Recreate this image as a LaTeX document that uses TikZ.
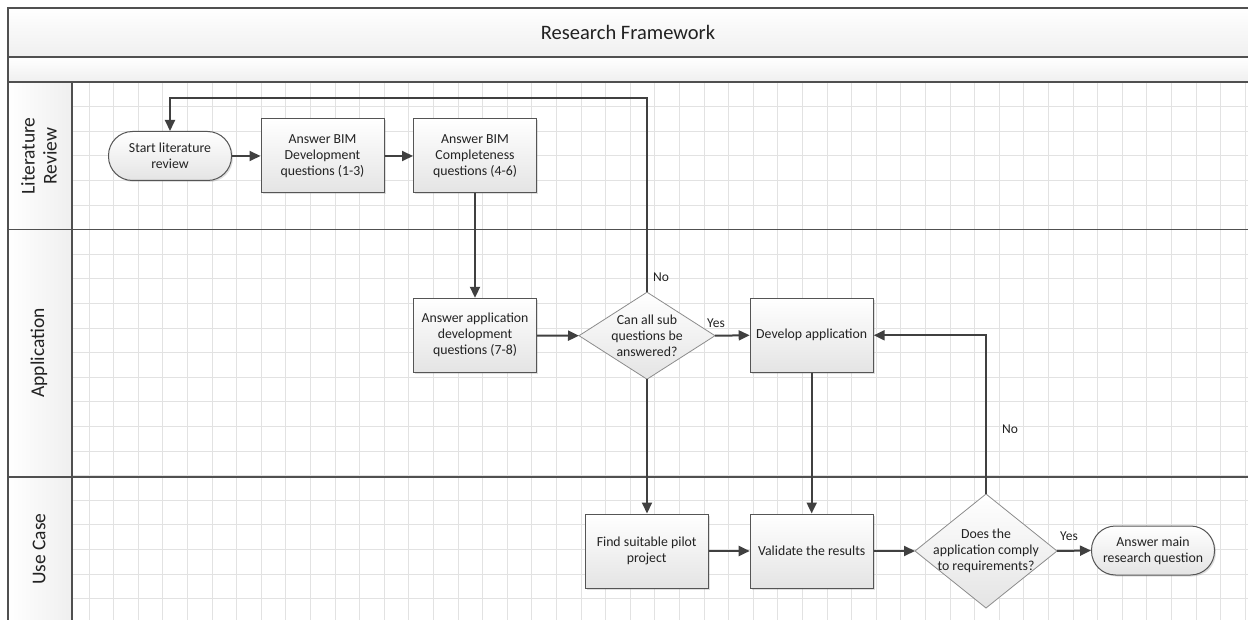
\documentclass[tikz,border=0pt]{standalone}
\usepackage{fontspec}
\setmainfont{Carlito}
\usetikzlibrary{shapes.geometric,arrows.meta,shadows,calc}
\definecolor{frameline}{HTML}{505050}
\definecolor{boxline}{HTML}{555555}
\definecolor{diamline}{HTML}{8C8C8C}
\definecolor{conn}{HTML}{404040}
\definecolor{gridc}{HTML}{E2E2E2}
\definecolor{txt}{HTML}{222222}
\definecolor{boxbottom}{HTML}{E4E4E4}
\definecolor{bandbottom}{HTML}{EFEFEF}
\tikzset{
  x=1pt, y=-1pt,
  every node/.style={font=\fontsize{13.8}{16}\selectfont, text=txt},
  procbox/.style={rectangle, draw=boxline, line width=1pt, top color=white, bottom color=boxbottom,
    minimum width=123pt, minimum height=74pt, align=center, inner sep=2pt,
    drop shadow={shadow xshift=1.5pt, shadow yshift=-1.5pt, opacity=0.25}},
  termbox/.style={rectangle, rounded corners=24pt, draw=boxline, line width=1pt, top color=white, bottom color=boxbottom,
    minimum width=123pt, minimum height=49pt, align=center, inner sep=2pt,
    drop shadow={shadow xshift=1.5pt, shadow yshift=-1.5pt, opacity=0.25}},
  decbox/.style={diamond, draw=diamline, line width=0.8pt, top color=white, bottom color=boxbottom,
    inner sep=0pt, outer sep=0pt},
  dectext/.style={align=center, inner sep=0pt},
  flow/.style={draw=conn, line width=2pt, -{Triangle[length=11pt,width=10pt]}},
  lanelabel/.style={rotate=90, align=center, font=\fontsize{19.5}{22}\selectfont},
  lane/.style={draw=frameline, line width=1.1pt},
  edgelabel/.style={font=\fontsize{13.5}{15}\selectfont, inner sep=1pt},
}
\begin{document}
\begin{tikzpicture}
\useasboundingbox (0,0) rectangle (1248,620);
\fill[white] (0,0) rectangle (1248,620);

% header bands
\shade[top color=white, bottom color=bandbottom] (8,8) rectangle (1248,57);
\shade[top color=white, bottom color=bandbottom] (8,57) rectangle (1248,82);
\node (title) at (628,32.5) {\fontsize{20.5}{24}\selectfont Research Framework};

% lane label column
\shade[left color=white, right color=bandbottom] (8,82) rectangle (72,620);

% background grid
\foreach \k in {0,...,47} {\draw[gridc, line width=0.9pt] ({89+24.6*\k},82) -- ({89+24.6*\k},620);}
\foreach \k in {1,...,21} {\draw[gridc, line width=0.9pt] (72,{82+24.6*\k}) -- (1248,{82+24.6*\k});}

% frame and lane separators
\draw[lane] (1248,8) -- (8,8) -- (8,620);
\draw[lane] (8,57) -- (1248,57);
\draw[lane] (8,82) -- (1248,82);
\draw[lane] (8,229.5) -- (1248,229.5);
\draw[lane] (8,477) -- (1248,477);
\draw[lane] (72,82) -- (72,620);

% lane titles
\node[lanelabel] (laneLR) at (39,156) {Literature\\Review};
\node[lanelabel] (laneApp) at (39,353) {Application};
\node[lanelabel] (laneUC) at (39,549) {Use Case};

% process steps
\node[termbox] (start) at (170,156) {Start literature\\review};
\node[procbox] (bimdev) at (322.5,156) {Answer BIM\\Development\\questions (1-3)};
\node[procbox] (bimcomp) at (475,156) {Answer BIM\\Completeness\\questions (4-6)};
\node[procbox] (appdev) at (475,335.3) {Answer application\\development\\questions (7-8)};
\node[decbox, minimum width=136pt, minimum height=87pt] (canall) at (647,335.7) {};
\node[dectext] (canallText) at (canall.center) {Can all sub\\questions be\\answered?};
\node[procbox] (develop) at (811.7,335.3) {Develop application};
\node[procbox] (pilot) at (646.7,551) {Find suitable pilot\\project};
\node[procbox] (validate) at (811.7,551) {Validate the results};
\node[decbox, minimum width=142pt, minimum height=114pt] (comply) at (986,551) {};
\node[dectext] (complyText) at (comply.center) {Does the\\application comply\\to requirements?};
\node[termbox] (mainq) at (1153,550.5) {Answer main\\research question};

% connectors
\draw[flow] (start) -- (bimdev);
\draw[flow] (bimdev) -- (bimcomp);
\draw[flow] (bimcomp) -- (appdev);
\draw[flow] (appdev) -- (canall.west);
\draw[flow] (canall.north) -- (canall.north |- 0,98.5) -| (start.north);
\draw[flow] (canall.east) -- (develop.west);
\draw[flow] (canall.south) -- (canall.south |- pilot.north);
\draw[flow] (develop) -- (validate);
\draw[flow] (pilot) -- (validate);
\draw[flow] (validate) -- (comply.west);
\draw[flow] (comply.north) |- (develop.east);
\draw[flow] (comply.east) -- (mainq.west);

% decision labels
\node[edgelabel] (no1) at (661,277) {No};
\node[edgelabel] (yes1) at (716,323) {Yes};
\node[edgelabel] (no2) at (1010,429.5) {No};
\node[edgelabel] (yes2) at (1069,536) {Yes};
\end{tikzpicture}
\end{document}
